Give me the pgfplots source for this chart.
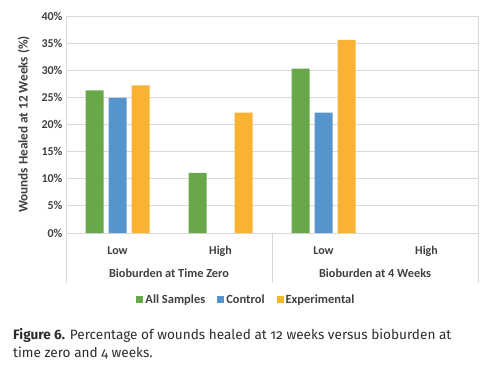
\documentclass[border=0pt]{standalone}
\usepackage{fontspec}
\setmainfont{Carlito}
\newfontfamily\capfont[Numbers=OldStyle]{Fira Sans}
\usepackage{pgfplots}
\pgfplotsset{compat=1.18}
\definecolor{cgreen}{RGB}{104,168,72}
\definecolor{cblue}{RGB}{86,148,206}
\definecolor{corange}{RGB}{250,178,50}
\definecolor{ctext}{RGB}{64,64,64}
\definecolor{cgrid}{RGB}{217,217,217}
\definecolor{ccap}{RGB}{45,45,45}
\begin{document}
\begin{tikzpicture}[x=1pt,y=1pt]
\path[use as bounding box] (0,0) rectangle (490,375);
\begin{axis}[
 at={(66pt,142pt)}, anchor=south west,
 scale only axis, width=412pt, height=217pt,
 ybar=5pt, bar width=18pt,
 xmin=-0.5, xmax=3.5, ymin=0, ymax=40,
 xtick={0,1,2,3}, xticklabels={Low,High,Low,High},
 ytick={0,5,...,40},
 yticklabel={\pgfmathprintnumber{\tick}\%},
 /pgf/number format/assume math mode=true,
 major tick length=0pt,
 ymajorgrids, grid style={cgrid, line width=0.8pt},
 axis line style={cgrid, line width=0.8pt},
 ticklabel style={font=\bfseries\fontsize{12}{14}\selectfont, text=ctext},
 xticklabel style={yshift=-10pt},
 ylabel={Wounds Healed at 12 Weeks (\%)},
 ylabel shift=5pt,
 ylabel style={font=\bfseries\fontsize{13.2}{15}\selectfont, text=ctext},
 legend columns=3,
 legend style={at={(0.438,-0.309)}, anchor=center, draw=none,
   font=\bfseries\fontsize{12.5}{14}\selectfont, text=ctext,
   /tikz/every even column/.append style={column sep=10pt}},
 legend image code/.code={\fill[#1] (0pt,-3pt) rectangle (7pt,4pt);},
]
\addplot[fill=cgreen, draw=none] coordinates {(0,26.3) (1,11.1) (2,30.3)};
\addplot[fill=cblue, draw=none] coordinates {(0,24.9) (2,22.2)};
\addplot[fill=corange, draw=none] coordinates {(0,27.2) (1,22.2) (2,35.6)};
\legend{All Samples, Control, Experimental}
\end{axis}
\draw[cgrid, line width=0.8pt] (66,142)--(66,92) (272,142)--(272,92) (478,142)--(478,92);
\node[font=\bfseries\fontsize{12.3}{14}\selectfont, text=ctext] at (169,102) {Bioburden at Time Zero};
\node[font=\bfseries\fontsize{12.3}{14}\selectfont, text=ctext] at (375,102) {Bioburden at 4 Weeks};
\node[anchor=base west, inner sep=0pt, text=ccap, font=\capfont\fontsize{13.6}{19}\selectfont] at (13,36) {\textbf{Figure 6.} Percentage of wounds healed at 12 weeks versus bioburden at};
\node[anchor=base west, inner sep=0pt, text=ccap, font=\capfont\fontsize{13.6}{19}\selectfont] at (13,17.3) {time zero and 4 weeks.};
\end{tikzpicture}
\end{document}
